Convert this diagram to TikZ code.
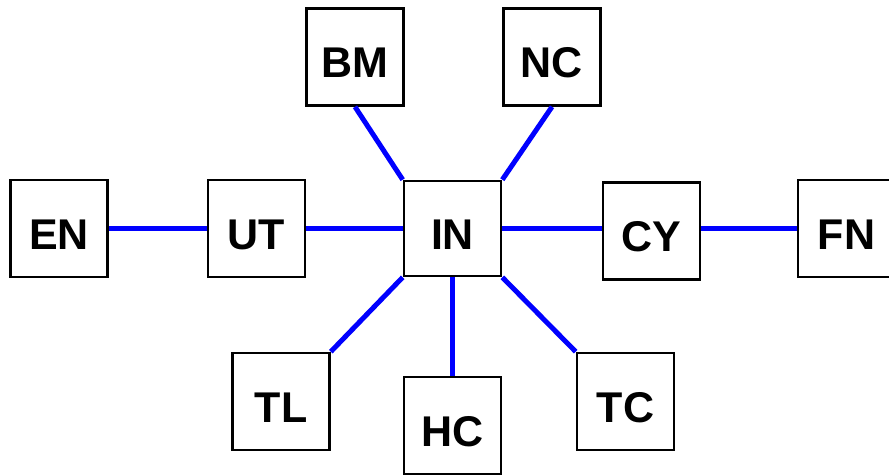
\documentclass[tikz,border=0pt]{standalone}
\usepackage{fontspec}
\setmainfont{Liberation Sans}
\begin{document}
\begin{tikzpicture}[x=1pt,y=-1pt,
  box/.style={draw=black,line width=2.6pt,fill=white,minimum width=97pt,minimum height=97pt,inner sep=0pt,
    font=\fontsize{43}{43}\selectfont\bfseries,text height=41pt,text depth=0pt},
  link/.style={draw=blue,line width=5pt}]
\useasboundingbox (0,0) rectangle (889,476);
\node[box] (BM) at (355,57) {BM};
\node[box] (NC) at (552,57) {NC};
\node[box] (EN) at (59,228.5) {EN};
\node[box] (UT) at (256.5,228.5) {UT};
\node[box,minimum height=95pt] (IN) at (452.5,228.5) {IN};
\node[box] (CY) at (651.5,231) {CY};
\node[box] (FN) at (846.5,228.5) {FN};
\node[box] (TL) at (281,401.5) {TL};
\node[box] (HC) at (452.5,425.5) {HC};
\node[box] (TC) at (625.5,401.5) {TC};
\draw[link] (BM.south) -- (IN.north west);
\draw[link] (NC.south) -- (IN.north east);
\draw[link] (EN.east) -- (UT.west);
\draw[link] (UT.east) -- (IN.west);
\draw[link] (IN.east) -- (IN.east -| CY.west);
\draw[link] (CY.east |- FN.west) -- (FN.west);
\draw[link] (TL.north east) -- (IN.south west);
\draw[link] (HC.north) -- (IN.south);
\draw[link] (TC.north west) -- (IN.south east);
\end{tikzpicture}
\end{document}
